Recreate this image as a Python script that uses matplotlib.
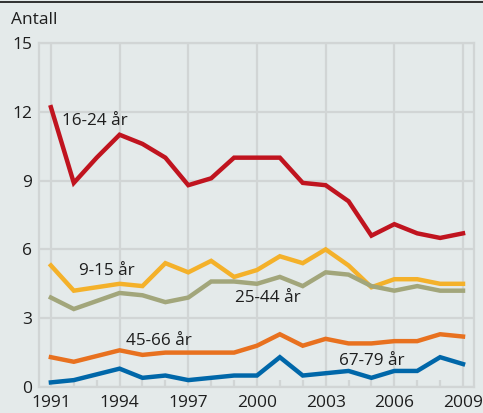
import matplotlib
matplotlib.use("Agg")
import matplotlib.pyplot as plt
from matplotlib.lines import Line2D

years = list(range(1991, 2010))
s_16_24 = [12.2, 8.9, 10.0, 11.0, 10.6, 10.0, 8.8, 9.1, 10.0, 10.0, 10.0, 8.9, 8.8, 8.1, 6.6, 7.1, 6.7, 6.5, 6.7]
s_9_15 = [5.3, 4.2, 4.35, 4.5, 4.4, 5.4, 5.0, 5.5, 4.8, 5.1, 5.7, 5.4, 6.0, 5.3, 4.35, 4.7, 4.7, 4.5, 4.5]
s_25_44 = [3.9, 3.4, 3.75, 4.1, 4.0, 3.7, 3.9, 4.6, 4.6, 4.5, 4.8, 4.4, 5.0, 4.9, 4.4, 4.2, 4.4, 4.2, 4.2]
s_45_66 = [1.3, 1.1, 1.35, 1.6, 1.4, 1.5, 1.5, 1.5, 1.5, 1.8, 2.3, 1.8, 2.1, 1.9, 1.9, 2.0, 2.0, 2.3, 2.2]
s_67_79 = [0.2, 0.3, 0.55, 0.8, 0.4, 0.5, 0.3, 0.4, 0.5, 0.5, 1.3, 0.5, 0.6, 0.7, 0.4, 0.7, 0.7, 1.3, 1.0]

series = [
    ("16-24 år", s_16_24, "#c0141f", (1991.48, 11.6)),
    ("9-15 år", s_9_15, "#f4b12a", (1992.22, 5.04)),
    ("25-44 år", s_25_44, "#a2a67b", (1999.03, 3.86)),
    ("45-66 år", s_45_66, "#e8711f", (1994.28, 2.02)),
    ("67-79 år", s_67_79, "#0067a9", (2003.59, 1.13)),
]
yticks = [0, 3, 6, 9, 12, 15]
xticks = [1991, 1994, 1997, 2000, 2003, 2006, 2009]

plt.rcParams['font.family'] = ['Open Sans', 'DejaVu Sans']
bg = "#e4eaea"
grid = "#d1d5d5"
txt = "#1e1e1e"

fig = plt.figure(figsize=(4.83, 4.13), dpi=100, facecolor=bg)
W, H = 483, 413
ax = fig.add_axes([39 / W, 1 - 387 / H, (474 - 39) / W, (387 - 43) / H])
ax.set_facecolor(bg)
ax.set_xlim(1990.48, 2009.48)
ax.set_ylim(0, 15)

for s in ax.spines.values():
    s.set_color(grid)
    s.set_linewidth(1.6)

ax.set_xticks(xticks)
ax.set_yticks(yticks)
ax.set_xticks(years, minor=True)
ax.grid(True, color=grid, linewidth=1.6, zorder=0)
ax.tick_params(axis='both', which='major', length=0, labelsize=12.5, labelcolor=txt)
ax.tick_params(axis='x', which='major', pad=6)
ax.tick_params(axis='y', which='major', pad=5)
ax.tick_params(axis='x', which='minor', direction='in', length=5, width=1.6, color=grid)
ax.tick_params(axis='y', which='minor', length=0)

for name, vals, col, pos in series:
    ax.plot(years, vals, color=col, linewidth=3.2, solid_joinstyle='miter', zorder=3)
    ax.text(pos[0], pos[1], name, fontsize=12.3, color=txt, ha='left', va='center', zorder=4)

fig.text(11 / W, 1 - 20 / H, "Antall", fontsize=12.5, color=txt, ha='left', va='center')
fig.add_artist(Line2D([0, 1], [1 - 2 / H, 1 - 2 / H], color="#111111", linewidth=1.2, transform=fig.transFigure))

fig.savefig("out.png", dpi=100, facecolor=bg)
